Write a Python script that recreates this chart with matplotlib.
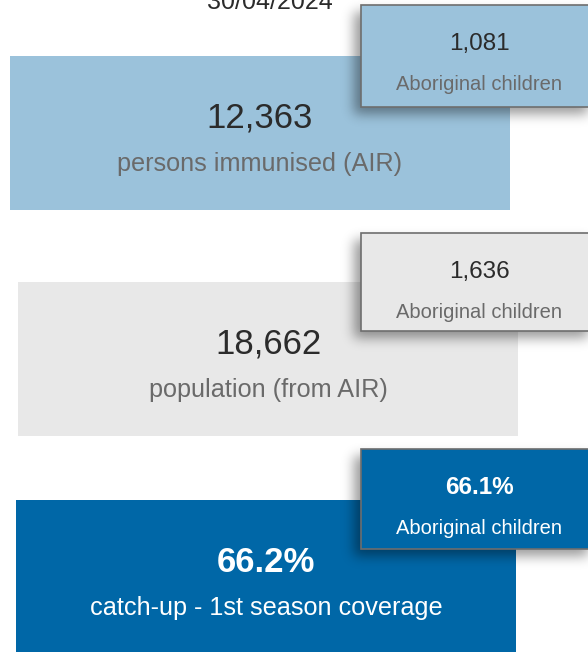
import matplotlib.pyplot as plt
import numpy as np
from matplotlib.patches import Rectangle

plt.rcParams['font.family'] = ['Liberation Sans', 'DejaVu Sans']

# values shown on the cards
date_label = '30/04/2024'
main_values = ['12,363', '18,662', '66.2%']
main_labels = ['persons immunised (AIR)', 'population (from AIR)', 'catch-up - 1st season coverage']
abor_values = ['1,081', '1,636', '66.1%']
abor_label = 'Aboriginal children'

W, H = 588, 652

# card layout in pixels (x0, y0, x1, y1)
big_boxes = [(10, 56, 510, 210), (18, 282, 518, 436), (16, 500, 516, 660)]
small_boxes = [(361, 5, 600, 107), (361, 233, 600, 331), (361, 449, 600, 549)]
fills = ['#9bc2db', '#e8e8e8', '#0067a7']
num_colors = ['#2b2b2b', '#2b2b2b', 'white']
lab_colors = ['#6a6a6a', '#6a6a6a', 'white']
weights = ['normal', 'normal', 'bold']


def blur(arr, sigma):
    r = int(3 * sigma)
    k = np.exp(-0.5 * (np.arange(-r, r + 1) / sigma) ** 2)
    k /= k.sum()
    arr = np.apply_along_axis(lambda m: np.convolve(m, k, 'same'), 0, arr)
    arr = np.apply_along_axis(lambda m: np.convolve(m, k, 'same'), 1, arr)
    return arr


fig = plt.figure(figsize=(W / 100, H / 100), dpi=100)
ax = fig.add_axes([0, 0, 1, 1])
ax.set_xlim(0, W)
ax.set_ylim(H, 0)
ax.axis('off')

# the date sits half above the top edge, as in the source
ax.text(270, 9, date_label, ha='center', va='baseline', fontsize=18, color='#2b2b2b')

for i in range(3):
    x0, y0, x1, y1 = big_boxes[i]
    ax.add_patch(Rectangle((x0, y0), x1 - x0, y1 - y0, facecolor=fills[i], edgecolor='none', zorder=1))
    cx = (x0 + x1) / 2
    ax.text(cx, y0 + 62, main_values[i], ha='center', va='center', fontsize=25,
            color=num_colors[i], fontweight=weights[i], zorder=2)
    ax.text(cx, y0 + 108, main_labels[i], ha='center', va='center', fontsize=18.2,
            color=lab_colors[i], zorder=2)

    # soft shadow under the small card
    sx0, sy0, sx1, sy1 = small_boxes[i]
    mask = np.zeros((H, W))
    mask[sy0 + 7:min(sy1 + 7, H), sx0 - 7:W] = 1
    sh = blur(mask, 6)
    rgba = np.zeros((H, W, 4))
    rgba[..., 3] = sh * 0.4
    ax.imshow(rgba, extent=(0, W, H, 0), zorder=3, interpolation='bilinear')

    ax.add_patch(Rectangle((sx0, sy0), sx1 - sx0, sy1 - sy0, facecolor=fills[i],
                           edgecolor='#6e6e6e', linewidth=1.2, zorder=4))
    ax.text(479, sy0 + 39, abor_values[i], ha='center', va='center', fontsize=17.5,
            color=num_colors[i], fontweight=weights[i], zorder=5)
    ax.text(479, sy0 + 80, abor_label, ha='center', va='center', fontsize=14.5,
            color=lab_colors[i], zorder=5)

ax.set_xlim(0, W)
ax.set_ylim(H, 0)
fig.savefig('out.png', dpi=100)
